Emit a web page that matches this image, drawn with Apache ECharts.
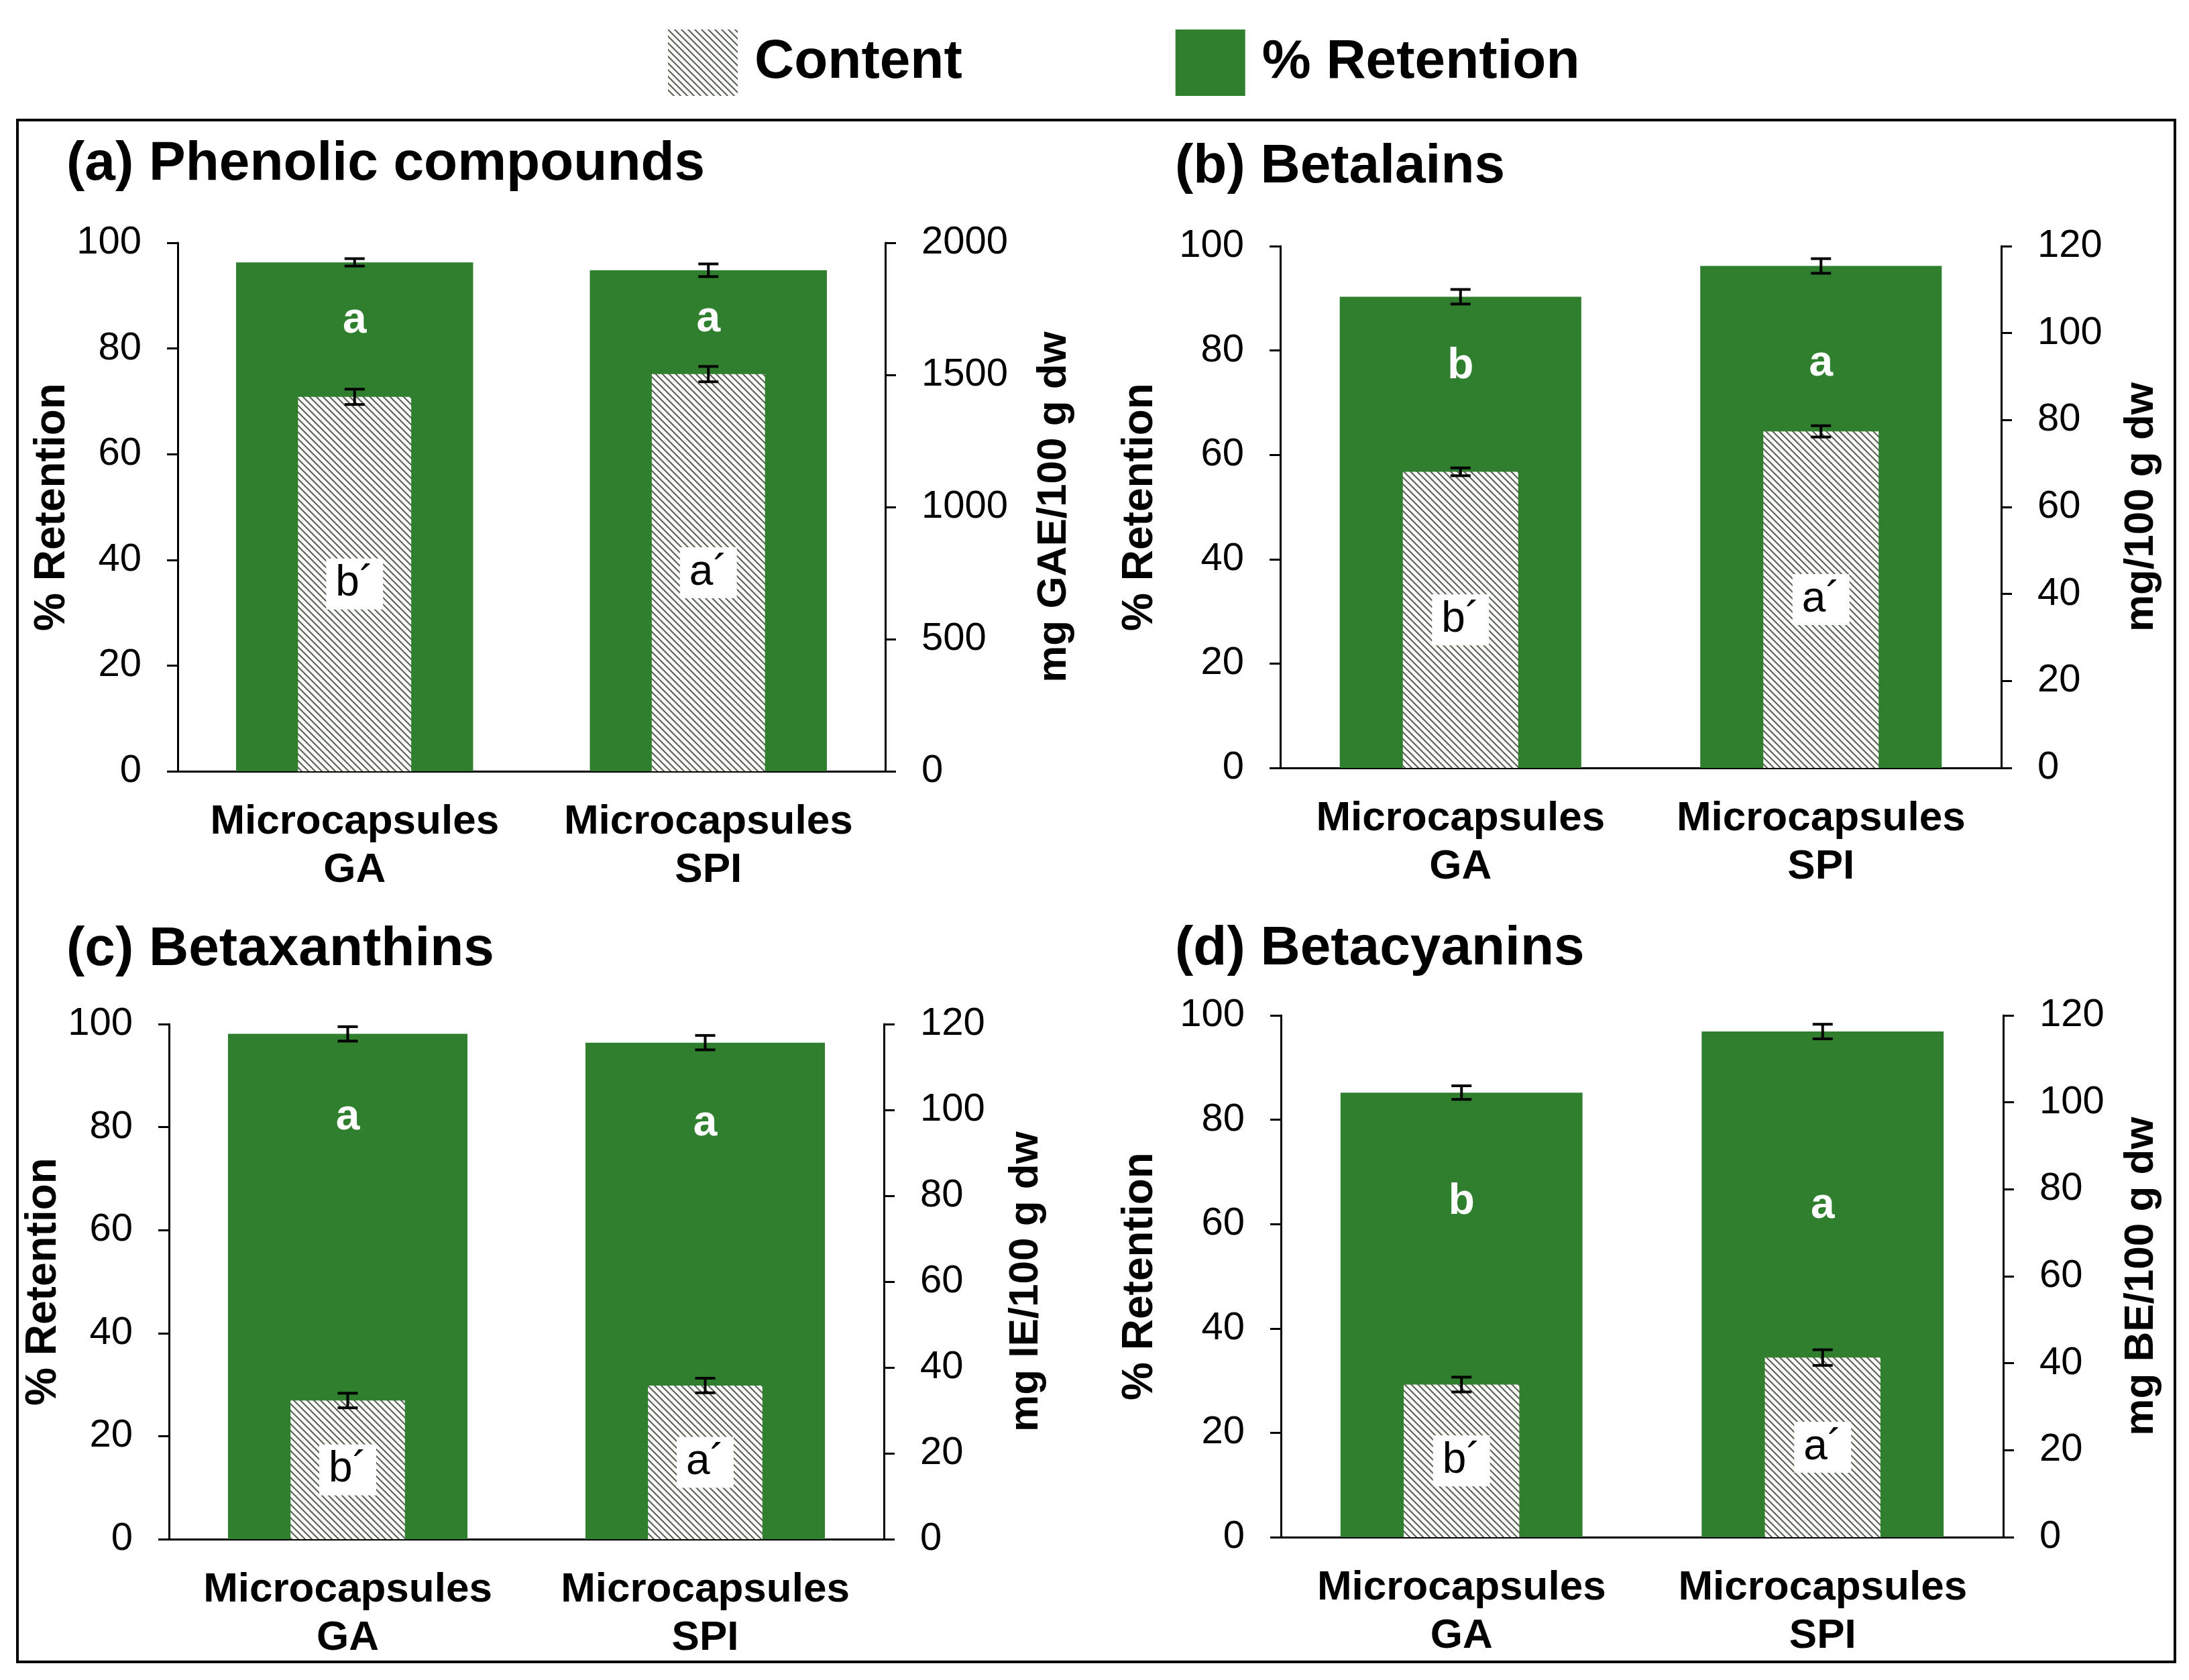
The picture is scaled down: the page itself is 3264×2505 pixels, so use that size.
<!DOCTYPE html>
<html>
<head>
<meta charset="utf-8">
<script src="https://cdn.jsdelivr.net/npm/echarts@6/dist/echarts.min.js"></script>
<style>
  html, body { margin: 0; padding: 0; background: #fff; }
  #chart { width: 3264px; height: 2505px; }
</style>
</head>
<body>
<div id="chart"></div>
<script>
// data
const categories = ['Microcapsules\nGA', 'Microcapsules\nSPI'];
const panelTitles = ['(a) Phenolic compounds', '(b) Betalains', '(c) Betaxanthins', '(d) Betacyanins'];
const rightNames = ['mg GAE/100 g dw', 'mg/100 g dw', 'mg IE/100 g dw', 'mg BE/100 g dw'];
const rightMax = [2000, 120, 120, 120];
const rightStep = [500, 20, 20, 20];

const retention    = [[96.3, 94.8], [90.3, 96.2], [98.1, 96.4], [85.2, 96.9]];
const retentionErr = [[0.7, 1.2], [1.4, 1.4], [1.4, 1.4], [1.3, 1.4]];
const content      = [[1417, 1503], [68.1, 77.4], [32.3, 35.8], [35.1, 41.3]];
const contentErr   = [[29, 29], [0.9, 1.3], [1.7, 1.7], [1.7, 1.8]];
const retentionLetters = [['a', 'a'], ['b', 'a'], ['a', 'a'], ['b', 'a']];
const contentLetters   = [['b´', 'a´'], ['b´', 'a´'], ['b´', 'a´'], ['b´', 'a´']];

// layout (pixels / label anchors), kept apart from the data
const grids = [
  {left: 265, top: 362, width: 1055, height: 788},
  {left: 1909, top: 367, width: 1075, height: 778},
  {left: 252, top: 1527, width: 1066, height: 768},
  {left: 1910, top: 1514, width: 1077, height: 778}
];
const titlePos = [[99, 204], [1752, 208], [99, 1375], [1752, 1374]];
const leftGap = [155, 177, 142, 178];
const rightGap = [221, 178, 181, 175];
const letterAt = [[85.2, 85.5], [76.9, 77.5], [81.8, 80.7], [64.2, 63.4]];

const GREEN = '#2f7f2f';
const FONT = '"Liberation Sans", Arial, sans-serif';

function hatchCanvas() {
  var s = 10;
  var c = document.createElement('canvas');
  c.width = s; c.height = s;
  var g = c.getContext('2d');
  g.fillStyle = '#fbfdf9';
  g.fillRect(0, 0, s, s);
  g.strokeStyle = '#5c625a';
  g.lineWidth = 2.1;
  g.beginPath();
  [-s, 0, s].forEach(function (k) {
    g.moveTo(k - 1, -1);
    g.lineTo(k + s + 1, s + 1);
  });
  g.stroke();
  return c;
}
const HATCH = {image: hatchCanvas(), repeat: 'repeat'};

function errBars(params, api) {
  var x = api.value(0), v = api.value(1), e = api.value(2);
  var hi = api.coord([x, v + e]);
  var lo = api.coord([x, v - e]);
  var half = 15;
  var st = {stroke: '#000', lineWidth: 4};
  return {
    type: 'group',
    children: [
      {type: 'line', shape: {x1: hi[0], y1: hi[1], x2: lo[0], y2: lo[1]}, style: st},
      {type: 'line', shape: {x1: hi[0] - half, y1: hi[1], x2: hi[0] + half, y2: hi[1]}, style: st},
      {type: 'line', shape: {x1: lo[0] - half, y1: lo[1], x2: lo[0] + half, y2: lo[1]}, style: st}
    ]
  };
}

function letterMarks(letters) {
  return function (params, api) {
    var pt = api.coord([api.value(0), api.value(1)]);
    return {
      type: 'text', x: pt[0], y: pt[1],
      style: {
        text: letters[params.dataIndex], fill: '#fff',
        font: 'bold 64px ' + FONT, align: 'center', verticalAlign: 'middle'
      }
    };
  };
}

var grid = [], xAxis = [], yAxis = [], series = [], title = [];

for (var p = 0; p < 4; p++) {
  grid.push(grids[p]);
  title.push({
    text: panelTitles[p], left: titlePos[p][0], top: titlePos[p][1], padding: 0,
    textStyle: {fontFamily: FONT, fontSize: 82, fontWeight: 'bold', color: '#000'}
  });
  // main category axis
  xAxis.push({
    type: 'category', gridIndex: p, data: categories,
    axisLine: {lineStyle: {color: '#000', width: 3}},
    axisTick: {show: false},
    axisLabel: {interval: 0, fontFamily: FONT, fontSize: 62, fontWeight: 'bold', color: '#000', lineHeight: 72, margin: 40}
  });
  // hidden axis so the narrow content bars centre on the same slot
  xAxis.push({type: 'category', gridIndex: p, data: categories, show: false});

  yAxis.push({
    type: 'value', gridIndex: p, min: 0, max: 100, interval: 20,
    name: '% Retention', nameLocation: 'middle', nameGap: leftGap[p],
    nameTextStyle: {fontFamily: FONT, fontSize: 64, fontWeight: 'bold', color: '#000'},
    axisLine: {show: true, lineStyle: {color: '#000', width: 3}},
    axisTick: {show: true, length: 16, lineStyle: {color: '#000', width: 3}},
    axisLabel: {fontFamily: FONT, fontSize: 58, color: '#000', margin: 54, formatter: String},
    splitLine: {show: false}
  });
  yAxis.push({
    type: 'value', gridIndex: p, position: 'right', min: 0, max: rightMax[p], interval: rightStep[p],
    name: rightNames[p], nameLocation: 'middle', nameGap: rightGap[p],
    nameTextStyle: {fontFamily: FONT, fontSize: 62, fontWeight: 'bold', color: '#000'},
    axisLine: {show: true, lineStyle: {color: '#000', width: 3}},
    axisTick: {show: true, length: 16, lineStyle: {color: '#000', width: 3}},
    axisLabel: {fontFamily: FONT, fontSize: 58, color: '#000', margin: 54, formatter: String},
    splitLine: {show: false}
  });

  var xa = p * 2, xb = p * 2 + 1, yl = p * 2, yr = p * 2 + 1;

  series.push({
    name: '% Retention', type: 'bar', xAxisIndex: xa, yAxisIndex: yl,
    data: retention[p], barWidth: '67%', itemStyle: {color: GREEN}, z: 2,
    animation: false
  });
  series.push({
    name: 'Content', type: 'bar', xAxisIndex: xb, yAxisIndex: yr,
    data: content[p], barWidth: '32%', itemStyle: {color: HATCH}, z: 3,
    label: {
      show: true, position: 'inside',
      formatter: (function (lt) { return function (d) { return lt[d.dataIndex]; }; })(contentLetters[p]),
      fontFamily: FONT, fontSize: 64, color: '#000',
      backgroundColor: '#fff', padding: [8, 14, 4, 14]
    },
    animation: false
  });
  series.push({
    type: 'custom', xAxisIndex: xa, yAxisIndex: yl, renderItem: errBars, z: 4,
    data: retention[p].map(function (v, i) { return [i, v, retentionErr[p][i]]; }),
    animation: false, silent: true
  });
  series.push({
    type: 'custom', xAxisIndex: xb, yAxisIndex: yr, renderItem: errBars, z: 4,
    data: content[p].map(function (v, i) { return [i, v, contentErr[p][i]]; }),
    animation: false, silent: true
  });
  series.push({
    type: 'custom', xAxisIndex: xa, yAxisIndex: yl, z: 5,
    renderItem: letterMarks(retentionLetters[p]),
    data: letterAt[p].map(function (y, i) { return [i, y]; }),
    animation: false, silent: true
  });
}

var chart = echarts.init(document.getElementById('chart'));
chart.setOption({
  backgroundColor: '#fff',
  animation: false,
  title: title,
  legend: {
    data: ['Content', '% Retention'],
    left: 996, top: 44, padding: 0,
    itemWidth: 104, itemHeight: 99, itemGap: 318,
    icon: 'rect',
    textStyle: {fontFamily: FONT, fontSize: 82, fontWeight: 'bold', color: '#000', padding: [0, 0, 0, 20]}
  },
  grid: grid,
  xAxis: xAxis,
  yAxis: yAxis,
  series: series,
  graphic: [{
    type: 'rect', shape: {x: 26, y: 179, width: 3217, height: 2299},
    style: {fill: 'none', stroke: '#000', lineWidth: 4}, z: 0
  }]
});
</script>
</body>
</html>
